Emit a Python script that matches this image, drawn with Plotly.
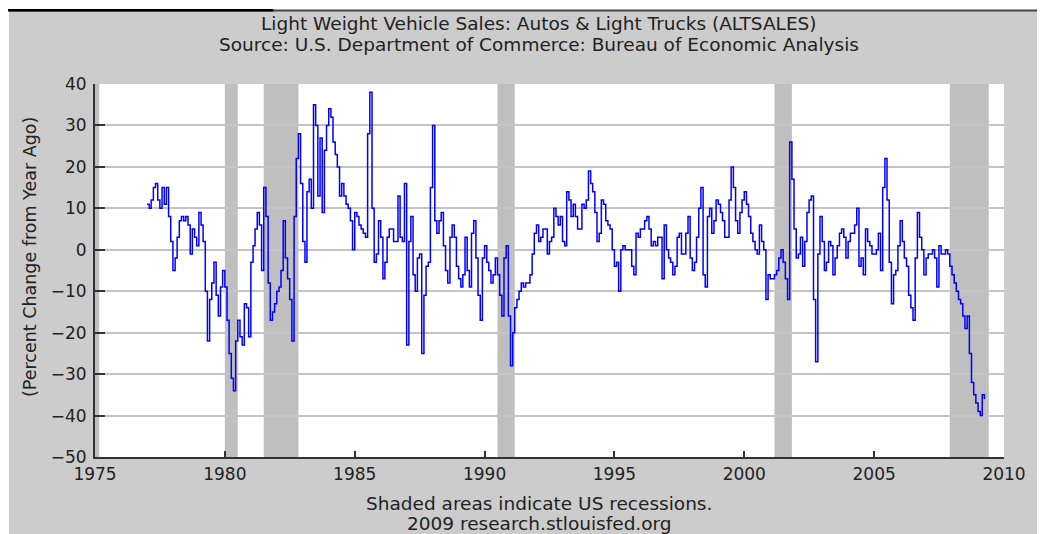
import pandas as pd
import plotly.graph_objects as go

# Year-over-year % change in light weight vehicle sales, monthly
sales_1977_1984 = [
    11, 10, 12, 15, 16, 12, 10, 15, 11, 15, 8, 2,
    -5, -2, 3, 7, 8, 7, 8, 6, -1, 5, 3, 1,
    9, 6, 2, -10, -22, -12, -8, -3, -11, -16, -9, -5,
    -9, -17, -25, -31, -34, -22, -17, -21, -23, -13, -14, -21,
    -3, 1, 5, 9, 6, -5, 15, 8, -8, -17, -15, -13,
    -10, -9, -5, 7, -2, -7, -12, -22, 8, 22, 28, 16,
    2, -3, 14, 17, 10, 35, 30, 13, 27, 9, 24, 30,
    34, 32, 26, 23, 20, 13, 16, 13, 11, 10, 7, 0,
]
sales_1985_1992 = [
    9, 8, 6, 5, 4, 3, 28, 38, 10, -3, -1, 7,
    3, -7, -3, 3, 5, 5, 2, 2, 13, 3, 2, 16,
    -23, 2, 8, -6, -10, -2, -1, -25, -11, -4, -3, 15,
    30, 7, 4, 7, 9, 1, -5, -8, 3, 6, 3, -4,
    -7, -9, -6, 3, -5, -9, 4, 7, -2, -11, -17, -2,
    1, -3, -5, -8, -6, -2, -6, -11, -16, -2, 1, -16,
    -28, -20, -14, -12, -10, -8, -9, -8, -8, -6, -1, 4,
    6, 2, 3, 5, 5, -1, 2, 3, 10, 8, 6, 8,
]
sales_1993_2000 = [
    2, 1, 14, 12, 8, 11, 8, 5, 5, 11, 10, 12,
    19, 16, 14, 9, 2, 4, 12, 11, 7, 6, 5, 0,
    -4, -3, -10, 0, 1, 0, 0, 0, -4, -6, 4, 3,
    5, 5, 7, 8, 5, 1, 2, 1, 3, 3, -7, 6,
    0, -2, -3, -6, -4, 3, 4, -1, -1, 4, 8, -2,
    -5, -3, 3, 10, 15, -6, -9, 8, 10, 4, 7, 12,
    11, 9, 7, 3, 3, 12, 20, 15, 7, 4, 9, 12,
    14, 11, 8, 4, 2, 0, -1, 6, 2, 0, -12, -6,
]
sales_2001_2009 = [
    -7, -7, -6, -5, -2, 0, -3, -7, -12, 26, 17, 5,
    -2, -1, 3, -4, 2, 9, 12, 13, -12, -27, -1, 8,
    2, -5, -3, 2, 1, -6, -2, 1, 4, 5, 3, -2,
    2, 4, 4, 6, 10, -4, -2, -6, 5, 2, 1, -1,
    -1, 0, 4, -5, 15, 22, 12, -3, -13, -6, -5, 1,
    7, 2, -2, -4, -11, -14, -17, -2, 9, 3, 0, -6,
    -2, -1, -1, 0, -2, -9, 1, -1, -1, 0, -1, -4,
    -6, -8, -10, -12, -13, -16, -19, -16, -25, -32, -35, -37,
    -39, -40, -35, -36,
]
first_month = "1977-01-01"

recession_starts = ["1975-01-01", "1980-01-01", "1981-07-01", "1990-07-01", "2001-03-01", "2007-12-01"]
recession_ends = ["1975-03-01", "1980-07-01", "1982-11-01", "1991-03-01", "2001-11-01", "2009-06-01"]

y_ticks = [-50, -40, -30, -20, -10, 0, 10, 20, 30, 40]
x_tick_years = [1975, 1980, 1985, 1990, 1995, 2000, 2005, 2010]

values = sales_1977_1984 + sales_1985_1992 + sales_1993_2000 + sales_2001_2009
months = pd.date_range(first_month, periods=len(values), freq="MS")

# The page body has an 8px default margin, so the figure starts at (8, 8) of the window.
OFF = 8
W, H = 1045 - OFF, 534 - OFF
L, R, T, B = 95, 1004, 84, 457  # plot area in window pixels
PW, PH = R - L, B - T


def px(x):
    return (x - L) / PW


def py(y):
    return (B - y) / PH


FONT = "DejaVu Sans"
TXT = "#222222"

fig = go.Figure()
fig.add_trace(go.Scatter(
    x=months, y=values, mode="lines", line=dict(color="#0000ff", width=1.5, shape="hv"),
    showlegend=False, hoverinfo="x+y",
))

shapes = []
for s, e in zip(recession_starts, recession_ends):
    shapes.append(dict(type="rect", xref="x", yref="paper", x0=s, x1=e, y0=0, y1=1,
                       fillcolor="#bfbfbf", line=dict(width=0), layer="below"))
# white page margins outside the grey panel
shapes.append(dict(type="rect", xref="paper", yref="paper", x0=px(0), x1=px(9), y0=py(540), y1=py(0),
                   fillcolor="white", line=dict(width=0), layer="above"))
shapes.append(dict(type="rect", xref="paper", yref="paper", x0=px(0), x1=px(1050), y0=py(10), y1=py(0),
                   fillcolor="white", line=dict(width=0), layer="above"))
shapes.append(dict(type="line", xref="paper", yref="paper", x0=px(9), x1=px(1050), y0=py(10.5), y1=py(10.5),
                   line=dict(color="#444444", width=2), layer="above"))

annotations = [
    dict(text="Light Weight Vehicle Sales: Autos & Light Trucks (ALTSALES)", x=px(538.5), y=py(24),
         xref="paper", yref="paper", showarrow=False, xanchor="center", yanchor="middle",
         font=dict(family=FONT, size=18.5, color=TXT)),
    dict(text="Source: U.S. Department of Commerce: Bureau of Economic Analysis", x=px(538.5), y=py(45),
         xref="paper", yref="paper", showarrow=False, xanchor="center", yanchor="middle",
         font=dict(family=FONT, size=18.5, color=TXT)),
    dict(text="Shaded areas indicate US recessions.", x=px(539), y=py(503),
         xref="paper", yref="paper", showarrow=False, xanchor="center", yanchor="middle",
         font=dict(family=FONT, size=18.5, color=TXT)),
    dict(text="2009 research.stlouisfed.org", x=px(539), y=py(523),
         xref="paper", yref="paper", showarrow=False, xanchor="center", yanchor="middle",
         font=dict(family=FONT, size=18.5, color=TXT)),
    dict(text="(Percent Change from Year Ago)", x=px(30), y=py(257), textangle=-90,
         xref="paper", yref="paper", showarrow=False, xanchor="center", yanchor="middle",
         font=dict(family=FONT, size=17.5, color=TXT)),
    dict(text="<u><i>Ventes de Véhicules :</i></u>", x=px(4), y=py(15),
         xref="paper", yref="paper", showarrow=False, xanchor="left", yanchor="bottom",
         font=dict(family=FONT, size=25, color="#000000")),
]

fig.update_layout(
    width=W, height=H, autosize=False,
    margin=dict(l=L - OFF, r=W + OFF - R, t=T - OFF, b=H + OFF - B, pad=0),
    paper_bgcolor="#cccccc", plot_bgcolor="#ffffff",
    shapes=shapes, annotations=annotations,
    xaxis=dict(
        type="date", range=["1975-01-01", "2010-01-01"],
        tickvals=[f"{y}-01-01" for y in x_tick_years], ticktext=[str(y) for y in x_tick_years],
        ticks="inside", ticklen=6, tickwidth=1.5, tickcolor="#333333",
        showline=True, linecolor="#333333", linewidth=2, showgrid=False, zeroline=False,
        tickfont=dict(family=FONT, size=17, color=TXT), ticklabelstandoff=1,
    ),
    yaxis=dict(
        range=[-50, 40], tickvals=y_ticks,
        ticks="inside", ticklen=10, tickwidth=1.5, tickcolor="#333333",
        showline=True, linecolor="#333333", linewidth=2,
        showgrid=True, gridcolor="#c4c4c4", gridwidth=1.5, zeroline=False,
        tickfont=dict(family=FONT, size=17, color=TXT), ticklabelstandoff=3,
    ),
)

fig.write_html("out.html")
